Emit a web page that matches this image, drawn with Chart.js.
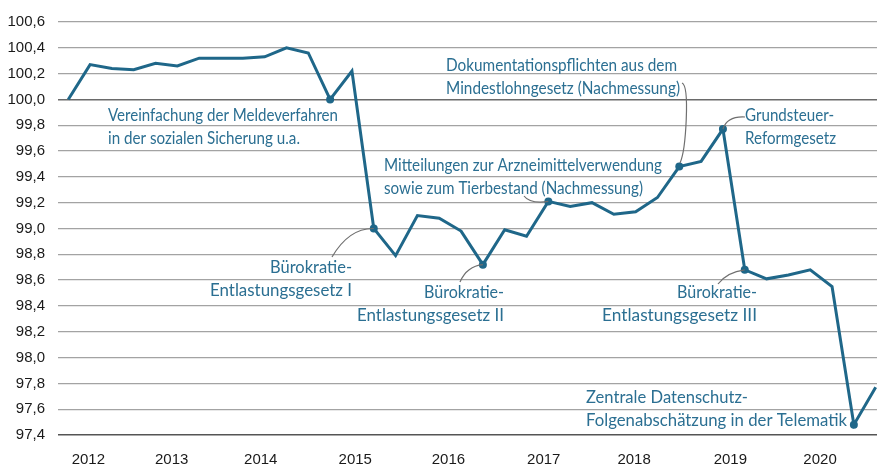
<!DOCTYPE html>
<html>
<head>
<meta charset="utf-8">
<script src="https://cdn.jsdelivr.net/npm/chart.js@4/dist/chart.umd.min.js"></script>
<style>
    html, body { margin: 0; padding: 0; background: #fff; }
    #wrap { width: 877px; height: 464px; }
</style>
</head>
<body>
<div id="wrap"><canvas id="chart" width="877" height="464"></canvas></div>
<script>
const values = [
    100.0, 100.27, 100.24, 100.23, 100.28, 100.26, 100.32, 100.32, 100.32, 100.33,
    100.4, 100.36, 100.0, 100.22, 99.0, 98.79, 99.1, 99.08, 98.98, 98.72,
    98.99, 98.94, 99.21, 99.17, 99.2, 99.11, 99.13, 99.24, 99.48, 99.52,
    99.77, 98.68, 98.61, 98.64, 98.68, 98.55, 97.48, 97.77,
]

// observations that carry a marker
const markedPoints = [12, 14, 19, 22, 28, 30, 31, 36]

// year labels and where they sit along the observation index
const yearLabels = ['2012', '2013', '2014', '2015', '2016', '2017', '2018', '2019', '2020']
const yearTickAt = [0.92, 4.74, 8.82, 13.15, 17.42, 21.79, 25.93, 30.34, 34.45]

const LINE = '#1f6789'
const TEXT = '#2b6f92'
const NOTE_FONT = "18px Lato, 'Noto Sans', sans-serif"

// annotation texts, which point they belong to and how they're laid out
// (w = width of each line in the original's condensed face)
const notes = [
    { lines: ['Vereinfachung der Meldeverfahren', 'in der sozialen Sicherung u.a.'], w: [230, 192], point: 12, x: 108, y: 121, align: 'left' },
    { lines: ['Dokumentationspflichten aus dem', 'Mindestlohngesetz (Nachmessung)'], w: [231, 234], point: 28, x: 446, y: 71, align: 'left',
      leader: { from: [682, 83], c1: [690, 86], c2: [686, 150], to: [680, 163] } },
    { lines: ['Grundsteuer-', 'Reformgesetz'], w: [89, 91], point: 30, x: 745, y: 121, align: 'left',
      leader: { from: [745, 117], c1: [727, 116] } },
    { lines: ['Mitteilungen zur Arzneimittelverwendung', 'sowie zum Tierbestand (Nachmessung)'], w: [278, 259], point: 22, x: 384, y: 171, align: 'left',
      leader: { from: [524, 196], c1: [530, 204] } },
    { lines: ['Bürokratie-', 'Entlastungsgesetz I'], w: [82, 142], point: 14, x: 352, y: 273, align: 'right',
      leader: { from: [332, 257], c1: [349, 228] } },
    { lines: ['Bürokratie-', 'Entlastungsgesetz II'], w: [80, 147], point: 19, x: 504, y: 298, align: 'right',
      leader: { from: [460, 282], c1: [467, 266] } },
    { lines: ['Bürokratie-', 'Entlastungsgesetz III'], w: [80, 155], point: 31, x: 757, y: 298, align: 'right',
      leader: { from: [718, 284], c1: [727, 272] } },
    { lines: ['Zentrale Datenschutz-', 'Folgenabschätzung in der Telematik'], w: [162, 261], point: 36, x: 586, y: 403, align: 'left' },
]

const notesPlugin = {
    id: 'notes',
    afterDatasetsDraw(chart) {
        const ctx = chart.ctx
        const xs = chart.scales.x
        const ys = chart.scales.y
        ctx.save()
        ctx.font = NOTE_FONT
        notes.forEach((n) => {
            if (n.leader) {
                const px = xs.getPixelForValue(n.point)
                const py = ys.getPixelForValue(values[n.point])
                const l = n.leader
                ctx.beginPath()
                ctx.strokeStyle = '#6f6f6f'
                ctx.lineWidth = 1.2
                ctx.moveTo(l.from[0], l.from[1])
                if (l.c2) {
                    ctx.bezierCurveTo(l.c1[0], l.c1[1], l.c2[0], l.c2[1], l.to[0], l.to[1])
                } else {
                    ctx.quadraticCurveTo(l.c1[0], l.c1[1], px, py)
                }
                ctx.stroke()
            }
            ctx.fillStyle = TEXT
            ctx.textAlign = n.align
            ctx.textBaseline = 'alphabetic'
            n.lines.forEach((t, i) => {
                // the original uses a condensed face, squeeze to the same width
                const sq = n.w[i] / ctx.measureText(t).width
                ctx.save()
                ctx.translate(n.x, n.y + i * 22.5)
                ctx.scale(sq, 1)
                ctx.fillText(t, 0, 0)
                ctx.restore()
            })
        })
        ctx.restore()
    },
}

new Chart(document.getElementById('chart'), {
    type: 'line',
    data: {
        labels: values.map((v, i) => i),
        datasets: [
            {
                data: values.map((v, i) => ({ x: i, y: v })),
                borderColor: LINE,
                backgroundColor: LINE,
                borderWidth: 3,
                tension: 0,
                pointRadius: (c) => (markedPoints.includes(c.dataIndex) ? 4 : 0),
                pointHoverRadius: 0,
                pointBorderWidth: 0,
                clip: false,
            },
        ],
    },
    options: {
        responsive: false,
        animation: false,
        layout: { padding: { top: 22, right: 0, left: 0, bottom: 0 } },
        plugins: {
            legend: { display: false },
            tooltip: { enabled: false },
        },
        scales: {
            x: {
                type: 'linear',
                min: -0.47,
                max: 37.06,
                grid: { display: false },
                border: { display: false },
                afterBuildTicks: (s) => {
                    s.ticks = yearTickAt.map((v) => ({ value: v }))
                },
                afterFit: (s) => {
                    s.height = 29
                },
                ticks: {
                    autoSkip: false,
                    maxRotation: 0,
                    padding: 8,
                    color: '#1a1a1a',
                    font: { family: "'Liberation Sans', Arial, sans-serif", size: 15 },
                    callback: (v, i) => yearLabels[i],
                },
            },
            y: {
                min: 97.4,
                max: 100.6,
                border: { display: false },
                afterFit: (s) => {
                    s.width = 58
                },
                grid: {
                    drawTicks: false,
                    lineWidth: (c) => (Math.abs(c.tick.value - 100) < 1e-6 || Math.abs(c.tick.value - 97.4) < 1e-6 ? 1.6 : 1.3),
                    color: (c) => {
                        const v = c.tick.value
                        if (Math.abs(v - 100) < 1e-6) return '#6a6a6a'
                        if (Math.abs(v - 97.4) < 1e-6) return '#555555'
                        return '#a3a3a3'
                    },
                },
                ticks: {
                    stepSize: 0.2,
                    padding: 13,
                    color: '#1a1a1a',
                    font: { family: "'Liberation Sans', Arial, sans-serif", size: 15 },
                    callback: (v) => v.toFixed(1).replace('.', ','),
                },
            },
        },
    },
    plugins: [notesPlugin],
})
</script>
</body>
</html>
